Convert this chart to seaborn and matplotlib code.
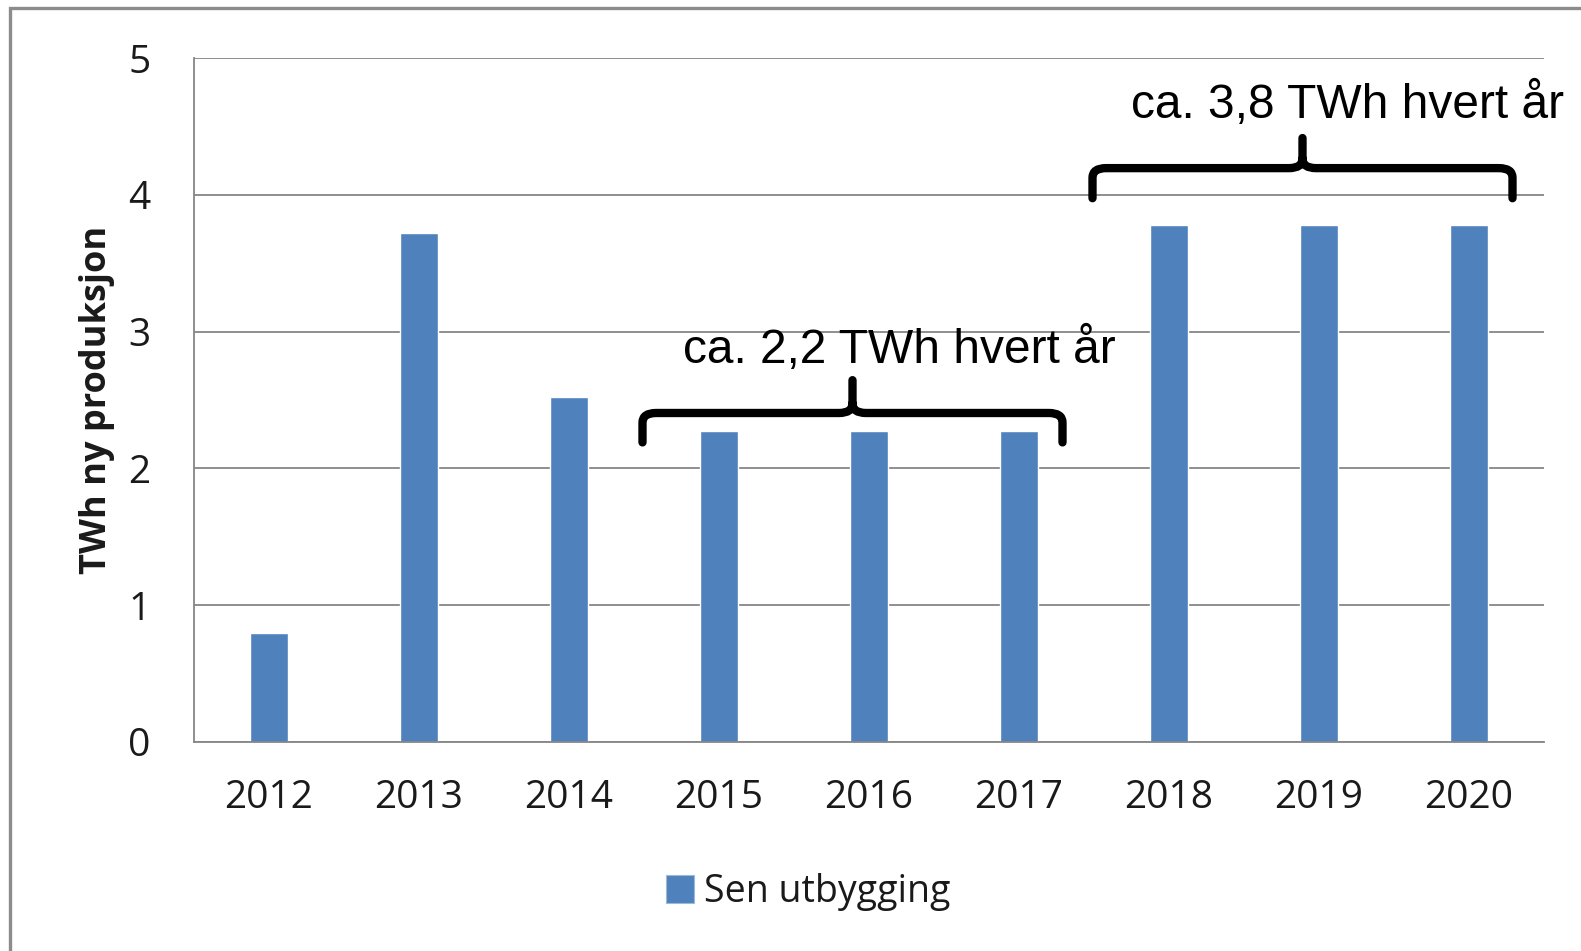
import numpy as np
import matplotlib
matplotlib.use("Agg")
import matplotlib.pyplot as plt
import seaborn as sns
from matplotlib.path import Path
from matplotlib.patches import PathPatch, Patch, Rectangle

# data
years = ["2012", "2013", "2014", "2015", "2016", "2017", "2018", "2019", "2020"]
twh = [0.80, 3.72, 2.52, 2.27, 2.27, 2.27, 3.78, 3.78, 3.78]
series_name = "Sen utbygging"
y_ticks = [0, 1, 2, 3, 4, 5]

# bracket annotations: (left, right, middle, level, tip, end, text)
brackets = [
    (2.49, 5.29, 3.89, 2.405, 2.645, 2.19, "ca. 2,2 TWh hvert år"),
    (5.49, 8.29, 6.89, 4.195, 4.415, 3.975, "ca. 3,8 TWh hvert år"),
]
label_pos = [(4.20, 2.77), (7.19, 4.56)]

bar_color = "#4F81BD"
grid_color = "#868686"
text_color = "#1a1a1a"

sns.set_style("white")
plt.rcParams["font.family"] = ["Open Sans", "DejaVu Sans"]

W, H = 1581, 951
fig = plt.figure(figsize=(W / 100, H / 100), dpi=100)
ax = fig.add_axes([194 / W, (H - 742) / H, 1350 / W, 684 / H])

sns.barplot(x=years, y=twh, color=bar_color, width=0.25, saturation=1, ax=ax)

ax.set_xlim(-0.5, len(years) - 0.5)
ax.set_ylim(0, 5)
ax.set_yticks(y_ticks)
ax.yaxis.grid(True, color=grid_color, lw=1.3)
ax.set_axisbelow(True)
for s in ["top", "right"]:
    ax.spines[s].set_visible(False)
for s in ["left", "bottom"]:
    ax.spines[s].set_color(grid_color)
    ax.spines[s].set_linewidth(1.3)

ax.tick_params(axis="y", length=9.4, width=1.3, color=grid_color, pad=22,
               labelsize=28, labelcolor=text_color, direction="out")
ax.tick_params(axis="x", length=0, pad=27, labelsize=28, labelcolor=text_color)

ax.set_xlabel("")
ax.set_ylabel("TWh ny produksjon", fontsize=26, fontweight="bold", color=text_color)
ax.yaxis.set_label_coords(-0.0585, 0.5)


def draw_brace(ax, x0, x1, xm, y, ytip, yend, rx=0.09, ry=0.07):
    verts = [(x0, yend), (x0, y - ry), (x0, y), (x0 + rx, y),
             (xm - rx, y), (xm, y), (xm, y + ry), (xm, ytip)]
    codes = [Path.MOVETO, Path.LINETO, Path.CURVE3, Path.CURVE3,
             Path.LINETO, Path.CURVE3, Path.CURVE3, Path.LINETO]
    verts += [(xm, y + ry), (xm, y), (xm + rx, y), (x1 - rx, y),
              (x1, y), (x1, y - ry), (x1, yend)]
    codes += [Path.MOVETO, Path.CURVE3, Path.CURVE3, Path.LINETO,
              Path.CURVE3, Path.CURVE3, Path.LINETO]
    ax.add_patch(PathPatch(Path(verts, codes), fill=False, lw=6, color="black",
                           capstyle="round", joinstyle="round", clip_on=False))


for (x0, x1, xm, y, ytip, yend, txt), (tx, ty) in zip(brackets, label_pos):
    draw_brace(ax, x0, x1, xm, y, ytip, yend)
    ax.text(tx, ty, txt, ha="center", va="baseline", fontsize=34.5,
            family=["Liberation Sans", "DejaVu Sans"], color="black", clip_on=False)

handle = Patch(facecolor=bar_color, edgecolor="#9db8d9", lw=0.8)
fig.legend([handle], [series_name], loc="center",
           bbox_to_anchor=(808 / W, 1 - 892 / H), frameon=False,
           fontsize=27, handlelength=0.75, handleheight=0.75,
           handletextpad=0.27, labelcolor=text_color)

# outer chart frame (only left and top edges visible)
fig.patches.append(Rectangle((10 / W, -0.2), 1.2, 1.2 - 8 / H,
                             transform=fig.transFigure, fill=False,
                             ec="#8c8c8c", lw=2.4))

fig.savefig("out.png", dpi=100)
